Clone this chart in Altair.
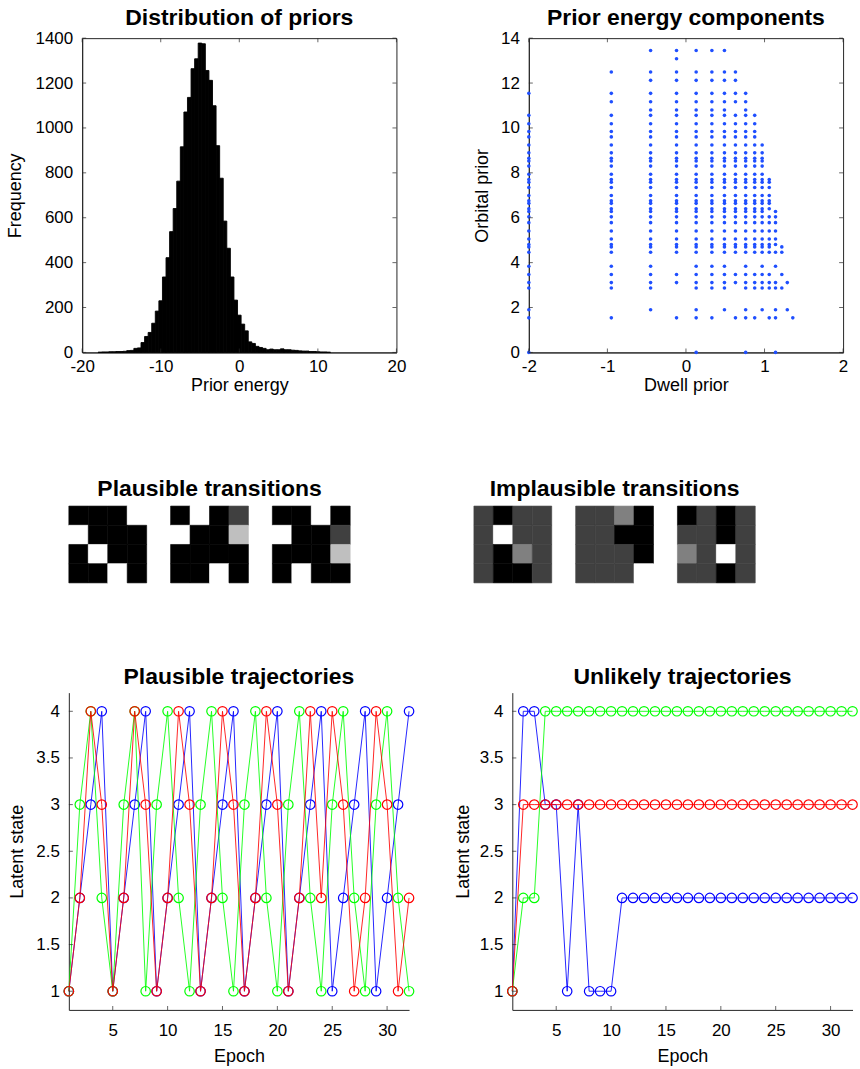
import altair as alt
import pandas as pd

FONT = "Liberation Sans"
INK = "#262626"
LABEL_SIZE = 17
AXTITLE_SIZE = 18

# ---------------- histogram of prior energy ----------------
hist_first_edge = -17.97
hist_bin_width = 0.455
hist_counts = [1, 2, 2, 3, 3, 4, 4, 5, 8, 9, 18, 20, 44, 71, 89, 130, 184, 230,
               336, 422, 538, 641, 763, 916, 1071, 1136, 1264, 1308, 1378, 1375,
               1256, 1212, 1099, 921, 776, 585, 464, 336, 233, 166, 126, 96, 47,
               40, 27, 22, 18, 12, 15, 12, 12, 16, 12, 12, 10, 9, 7, 6, 6, 4, 4,
               3, 2, 2, 1]
energy_ticks = [-20, -10, 0, 10, 20]
frequency_ticks = [0, 200, 400, 600, 800, 1000, 1200, 1400]

# ---------------- prior energy components ----------------
dwell_values = [-2.00, -0.95, -0.45, -0.12, 0.13, 0.33, 0.49, 0.63, 0.76,
                0.875, 0.97, 1.06, 1.14, 1.22, 1.29, 1.36]
orbital_levels = [13.45, 13.08, 12.49, 12.12, 11.54, 11.17, 10.80, 10.56, 10.19,
                  9.84, 9.60, 9.24, 8.89, 8.65, 8.53, 8.30, 7.94, 7.70, 7.58, 7.35,
                  6.99, 6.76, 6.64, 6.40, 6.28, 6.04, 5.78, 5.41, 5.05, 4.81, 4.70,
                  4.46, 3.84, 3.47, 3.11, 2.87, 1.90, 1.54, 0.00]
MID = [7, 8, 9, 10, 11, 12, 13, 14, 15, 16, 17, 18, 19, 20, 21, 22, 23, 24, 25,
       26, 27, 28, 29, 30, 31]
orbital_rows_per_column = [
    [4] + MID + [32, 33, 34, 35, 36, 37, 38],
    [2, 4, 5] + MID + [32, 33, 34, 35, 37],
    [0, 2, 3, 4, 5, 6] + MID + [32, 33, 34, 35, 36],
    [0, 1, 2, 3, 4, 5, 6] + MID + [33, 34, 37],
    [0, 2, 3, 4, 5, 6] + MID + [32, 33, 34, 35, 36, 37, 38],
    [0, 2, 3, 4, 5, 6] + MID + [32, 33, 34, 35, 37],
    [0, 2, 3, 4, 5, 6] + MID + [32, 33, 34, 35, 36],
    [2, 3, 4, 5] + MID + [33, 34, 37],
    [4, 5, 6] + MID + [32, 33, 34, 35, 36, 37, 38],
    MID + [33, 34, 35, 37],
    [11, 12, 13, 14, 15, 16, 17, 18, 19, 20, 21, 22, 23, 24, 25, 26, 27, 28, 29,
     30, 31, 32, 33, 34, 35, 36],
    [17, 18, 19, 20, 21, 22, 23, 25, 26, 27, 28, 29, 30, 31, 33, 34, 35, 37],
    [24, 25, 26, 27, 28, 29, 31, 32, 34, 35, 36, 37, 38],
    [30, 31, 33, 35],
    [34, 36],
    [37],
]
dwell_ticks = [-2, -1, 0, 1, 2]
orbital_ticks = [0, 2, 4, 6, 8, 10, 12, 14]

# ---------------- transition matrices (rows x columns) ----------------
plausible_transitions = [
    [[0, 0, 0, 1], [1, 0, 0, 0], [0, 1, 0, 0], [0, 0, 1, 0]],
    [[0, 1, 0, 0.25], [1, 0, 0, 0.75], [0, 0, 0, 0], [0, 0, 1, 0]],
    [[0, 0, 1, 0], [1, 0, 0, 0.25], [0, 0, 0, 0.75], [0, 1, 0, 0]],
]
implausible_transitions = [
    [[0.25, 0, 0.25, 0.25], [0.25, 1, 0.25, 0.25], [0.25, 0, 0.5, 0.25], [0.25, 0, 0, 0.25]],
    [[0.25, 0.25, 0.5, 0], [0.25, 0.25, 0, 0], [0.25, 0.25, 0.25, 0], [0.25, 0.25, 0.25, 1]],
    [[0, 0.25, 0, 0.25], [0.25, 0.25, 0, 0.25], [0.5, 0.25, 1, 0.25], [0.25, 0.25, 0, 0.25]],
]

# ---------------- trajectories ----------------
epochs = [1, 2, 3, 4, 5, 6, 7, 8, 9, 10, 11, 12, 13, 14, 15, 16, 17, 18, 19, 20,
          21, 22, 23, 24, 25, 26, 27, 28, 29, 30, 31, 32]
plausible_blue = [1, 2, 3, 4, 1, 2, 3, 4, 1, 2, 3, 4, 1, 2, 3, 4, 1, 2, 3, 4,
                  1, 2, 3, 4, 1, 2, 3, 4, 1, 2, 3, 4]
plausible_green = [1, 3, 4, 2, 1, 3, 4, 1, 3, 4, 2, 1, 3, 4, 2, 1, 3, 4, 2, 1,
                   3, 4, 2, 1, 3, 4, 2, 1, 3, 4, 2, 1]
plausible_red = [1, 2, 4, 3, 1, 2, 4, 3, 1, 2, 4, 3, 1, 2, 4, 3, 1, 2, 4, 3,
                 1, 2, 4, 2, 4, 3, 1, 2, 4, 3, 1, 2]
unlikely_blue = [1, 4, 4, 3, 3, 1, 3, 1, 1, 1, 2, 2, 2, 2, 2, 2, 2, 2, 2, 2,
                 2, 2, 2, 2, 2, 2, 2, 2, 2, 2, 2, 2]
unlikely_green = [1, 2, 2, 4, 4, 4, 4, 4, 4, 4, 4, 4, 4, 4, 4, 4, 4, 4, 4, 4,
                  4, 4, 4, 4, 4, 4, 4, 4, 4, 4, 4, 4]
unlikely_red = [1, 3, 3, 3, 3, 3, 3, 3, 3, 3, 3, 3, 3, 3, 3, 3, 3, 3, 3, 3,
                3, 3, 3, 3, 3, 3, 3, 3, 3, 3, 3, 3]
epoch_ticks = [5, 10, 15, 20, 25, 30]
state_ticks = [1, 1.5, 2, 2.5, 3, 3.5, 4]
series_colors = {"blue": "#0000ff", "green": "#00ff00", "red": "#ff0000"}

MINUS = "replace(datum.label, '\u2212', '-')"
TICK_LEN = 4


def y_axis(title, values, title_x, h, fmt=None):
    kw = dict(title=title, values=values, ticks=False, grid=False, labelPadding=9.5,
              labelFontSize=LABEL_SIZE, titleFontSize=AXTITLE_SIZE, titleFontWeight="normal",
              titleAngle=270, titleX=title_x, titleY=h / 2, titleAlign="center",
              titleBaseline="middle", domainColor=INK, labelColor="black",
              titleColor="black", labelExpr=MINUS, labelFlush=False,
              labelOverlap=False)
    if fmt:
        kw["format"] = fmt
    return alt.Axis(**kw)


def x_axis(title, values, w, label_pad, title_y):
    return alt.Axis(title=title, values=values, ticks=False, grid=False,
                    labelPadding=label_pad, labelFontSize=LABEL_SIZE,
                    titleFontSize=AXTITLE_SIZE, titleFontWeight="normal",
                    titleX=w / 2, titleY=title_y, titleAlign="center",
                    titleBaseline="middle", domainColor=INK, labelColor="black",
                    titleColor="black", labelExpr=MINUS, labelFlush=False,
                    labelOverlap=False)


def inner_ticks(X, Y, xfield, xvals, yfield, yvals, w, h, box):
    half = TICK_LEN / 2
    ydf = pd.DataFrame({yfield: yvals})
    xdf = pd.DataFrame({xfield: xvals})
    hy = alt.Chart(ydf).mark_tick(orient="horizontal", size=TICK_LEN, thickness=1, color=INK)
    vx = alt.Chart(xdf).mark_tick(orient="vertical", size=TICK_LEN, thickness=1, color=INK)
    out = [hy.encode(y=Y, x=alt.value(half)), vx.encode(x=X, y=alt.value(h - half))]
    if box:
        out.append(hy.encode(y=Y, x=alt.value(w - half)))
        out.append(vx.encode(x=X, y=alt.value(half)))
    return out


def title(text, offset):
    return alt.TitleParams(text, offset=offset, baseline="top")


# ---------- panel 1: histogram ----------
HW, HH = 315, 315
hist_df = pd.DataFrame({
    "lo": [hist_first_edge + i * hist_bin_width for i in range(len(hist_counts))],
    "count": hist_counts,
})
hist_df["hi"] = hist_df["lo"] + hist_bin_width
HX = alt.X("lo:Q", scale=alt.Scale(domain=[-20, 20], nice=False, zero=False),
           axis=x_axis("Prior energy", energy_ticks, HW, 6.5, 33))
HY = alt.Y("count:Q", scale=alt.Scale(domain=[0, 1400], nice=False),
           axis=y_axis("Frequency", frequency_ticks, -67, HH, fmt="d"))
bars = alt.Chart(hist_df).mark_rect(color="black", stroke="black", strokeWidth=0.9).encode(
    x=HX, x2="hi:Q", y=HY, y2=alt.datum(0))
hist = alt.layer(
    bars, *inner_ticks(HX, HY, "lo", energy_ticks, "count", frequency_ticks, HW, HH, True)
).properties(width=HW, height=HH, title=title("Distribution of priors", -0.7),
             view=alt.ViewBackground(stroke=INK, strokeWidth=1))

# ---------- panel 2: scatter ----------
rows = []
for c, dv in enumerate(dwell_values):
    for r in orbital_rows_per_column[c]:
        rows.append({"dwell": dv, "orbital": orbital_levels[r]})
sc_df = pd.DataFrame(rows)
SX = alt.X("dwell:Q", scale=alt.Scale(domain=[-2, 2], nice=False, zero=False),
           axis=x_axis("Dwell prior", dwell_ticks, HW, 6.5, 33))
SY = alt.Y("orbital:Q", scale=alt.Scale(domain=[0, 14], nice=False),
           axis=y_axis("Orbital prior", orbital_ticks, -46, HH))
pts = alt.Chart(sc_df).mark_circle(size=13, color="#1f4fff", opacity=1).encode(x=SX, y=SY)
scatter = alt.layer(
    pts, *inner_ticks(SX, SY, "dwell", dwell_ticks, "orbital", orbital_ticks, HW, HH, True)
).properties(width=HW, height=HH, title=title("Prior energy components", -0.7),
             view=alt.ViewBackground(stroke=INK, strokeWidth=1))


# ---------- matrices ----------
GRAY = alt.Scale(domain=[0, 1], range=["#000000", "#ffffff"], interpolate="rgb")


def matrix_chart(m, ttl=None):
    cells = []
    for i, row in enumerate(m):
        for j, v in enumerate(row):
            cells.append({"r": i, "c": j, "v": v})
    df = pd.DataFrame(cells)
    ch = alt.Chart(df).mark_rect(strokeWidth=0.6).encode(
        x=alt.X("c:O", axis=None),
        y=alt.Y("r:O", axis=None),
        color=alt.Color("v:Q", scale=GRAY, legend=None),
        stroke=alt.Stroke("v:Q", scale=GRAY, legend=None),
    )
    props = dict(width=78, height=77)
    if ttl:
        props["title"] = title(ttl, 4.7)
    return ch.properties(**props)


def blank(w, h):
    return alt.Chart(pd.DataFrame({"a": [0]})).mark_rect(color="white", opacity=0).encode(
        x=alt.value(0), x2=alt.value(w), y=alt.value(0), y2=alt.value(h)
    ).properties(width=w, height=h)


# ---------- trajectories ----------
TW, TH = 341, 318


def traj_chart(series, ttl, title_x):
    X = alt.X("epoch:Q", scale=alt.Scale(domain=[1, 32], nice=False, zero=False),
              axis=x_axis("Epoch", epoch_ticks, TW, 12.5, 47))
    Y = alt.Y("state:Q", scale=alt.Scale(domain=[0.8, 4.2], nice=False, zero=False),
              axis=y_axis("Latent state", state_ticks, title_x, TH, fmt="~g"))
    layers = []
    for name in ["blue", "green", "red"]:
        df = pd.DataFrame({"epoch": epochs, "state": series[name]})
        base = alt.Chart(df).encode(x=X, y=Y)
        col = series_colors[name]
        layers.append(base.mark_line(color=col, strokeWidth=1, opacity=0.85))
        layers.append(base.mark_point(shape="circle", filled=False, color=col, size=90,
                                      strokeWidth=1.2, opacity=1))
    layers += inner_ticks(X, Y, "epoch", epoch_ticks, "state", state_ticks, TW, TH, False)
    return alt.layer(*layers).properties(width=TW, height=TH, title=title(ttl, 4))


plaus = traj_chart({"blue": plausible_blue, "green": plausible_green, "red": plausible_red},
                   "Plausible trajectories", -51.3)
unlik = traj_chart({"blue": unlikely_blue, "green": unlikely_green, "red": unlikely_red},
                   "Unlikely trajectories", -48.5)

row1 = alt.hconcat(blank(6.35, 1), hist, blank(120, 359), scatter, spacing=6.35,
                   bounds="flush")
row2 = alt.hconcat(
    matrix_chart(plausible_transitions[0]),
    matrix_chart(plausible_transitions[1], "Plausible transitions"),
    matrix_chart(plausible_transitions[2]),
    blank(76, 78),
    matrix_chart(implausible_transitions[0]),
    matrix_chart(implausible_transitions[1], "Implausible transitions"),
    matrix_chart(implausible_transitions[2]),
    spacing=24, bounds="flush")
row3 = alt.hconcat(plaus, unlik, spacing=103.5, bounds="flush")

top = alt.vconcat(row1, row2, row3, spacing=82)

chart = top.properties(
    padding={"left": 5, "top": 5, "right": 0, "bottom": 0},
    background="white",
).configure(font=FONT).configure_view(stroke=None).configure_title(
    font=FONT, fontSize=23, fontWeight="bold", color="black", anchor="middle"
).configure_axis(labelFont=FONT, titleFont=FONT)

chart.save("out.html", embed_options={"renderer": "svg", "actions": False})
